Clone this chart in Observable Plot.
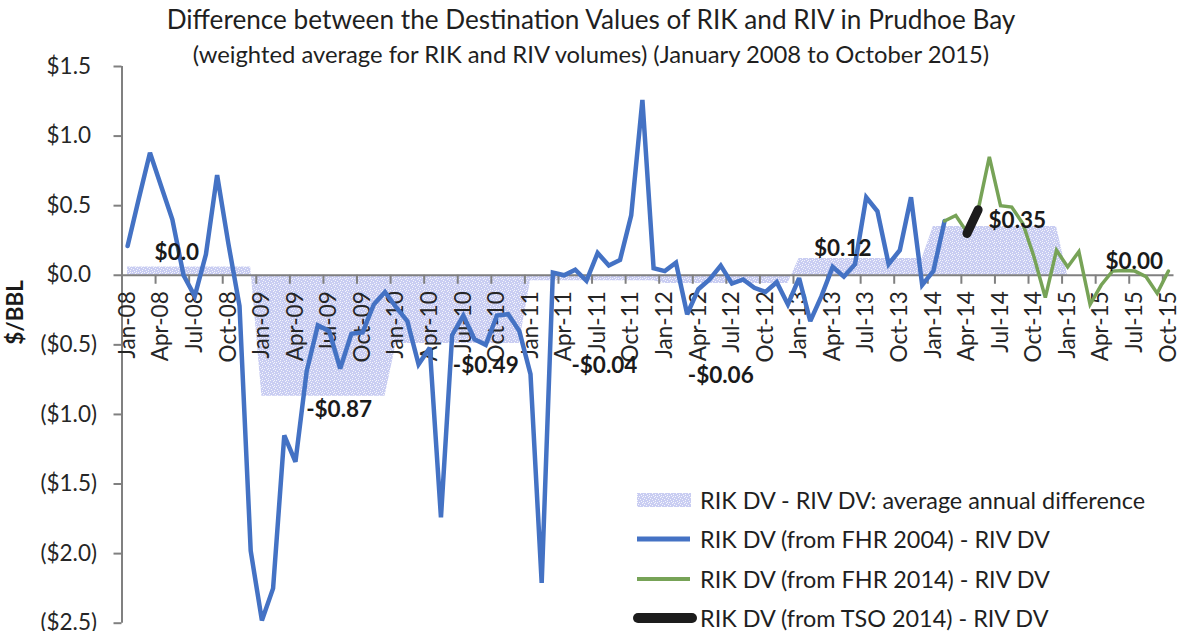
<!DOCTYPE html>
<html>
<head>
<meta charset="utf-8">
<script src="https://cdn.jsdelivr.net/npm/d3@7"></script>
<script src="https://cdn.jsdelivr.net/npm/@observablehq/plot@0.6"></script>
<style>
  html, body { margin: 0; padding: 0; background: #fff; }
  #wrap { position: relative; width: 1182px; height: 631px; overflow: hidden; font-family: Lato, "Open Sans", sans-serif; color: #1f1f1f; }
  .title { position: absolute; left: 0; width: 1182px; text-align: center; white-space: nowrap; line-height: 1; }
  #t1 { top: 6px; font-size: 26.2px; }
  #t2 { top: 43px; font-size: 23.8px; }
  #chart { position: absolute; left: 0; top: 50px; }
  #legend { position: absolute; left: 633px; top: 480px; font-size: 23.4px; color: #1f1f1f; }
  .row { display: flex; align-items: center; height: 39.5px; white-space: nowrap; }
  .row svg { flex: none; margin-right: 3px; }
</style>
</head>
<body>
<div id="wrap">
  <div class="title" id="t1">Difference between the Destination Values of RIK and RIV in Prudhoe Bay</div>
  <div class="title" id="t2">(weighted average for RIK and RIV volumes) (January 2008 to October 2015)</div>
  <div id="chart"></div>
  <div id="legend"></div>
</div>
<script>
// ---------- data ----------
// x-axis tick labels (every third month, Jan-08 .. Oct-15)
const xTickLabels = ["Jan-08","Apr-08","Jul-08","Oct-08","Jan-09","Apr-09","Jul-09","Oct-09",
  "Jan-10","Apr-10","Jul-10","Oct-10","Jan-11","Apr-11","Jul-11","Oct-11",
  "Jan-12","Apr-12","Jul-12","Oct-12","Jan-13","Apr-13","Jul-13","Oct-13",
  "Jan-14","Apr-14","Jul-14","Oct-14","Jan-15","Apr-15","Jul-15","Oct-15"];
const monthCount = 94; // Jan-08 .. Oct-15

// y-axis ticks
const yTickValues = [1.5, 1.0, 0.5, 0.0, -0.5, -1.0, -1.5, -2.0, -2.5];
const yTickLabels = ["$1.5", "$1.0", "$0.5", "$0.0", "($0.5)", "($1.0)", "($1.5)", "($2.0)", "($2.5)"];

// RIK DV (from FHR 2004) - RIV DV, monthly, Jan-08 .. Feb-14
const blueStart = 0;
const blueValues = [
  0.21, 0.55, 0.88, 0.64, 0.40, 0.00, -0.15, 0.15, 0.72, 0.23, -0.22, -1.98,      // 2008
  -2.48, -2.25, -1.15, -1.34, -0.69, -0.36, -0.40, -0.67, -0.42, -0.41, -0.21, -0.12, // 2009
  -0.23, -0.33, -0.64, -0.52, -1.74, -0.43, -0.29, -0.46, -0.50, -0.29, -0.28, -0.40, // 2010
  -0.71, -2.21, 0.02, 0.00, 0.04, -0.04, 0.16, 0.07, 0.11, 0.43, 1.26, 0.05,     // 2011
  0.03, 0.09, -0.28, -0.10, -0.03, 0.07, -0.06, -0.03, -0.09, -0.12, -0.05, -0.21, // 2012
  -0.02, -0.33, -0.15, 0.06, -0.01, 0.08, 0.56, 0.46, 0.08, 0.18, 0.56, -0.07,   // 2013
  0.03, 0.39                                                                     // 2014
];

// RIK DV (from FHR 2014) - RIV DV, monthly, Feb-14 .. Oct-15
const greenStart = 73;
const greenValues = [0.39, 0.43, 0.31, 0.47, 0.85, 0.50, 0.49, 0.37, 0.13, -0.16, 0.18,
  0.06, 0.17, -0.21, -0.07, 0.03, 0.035, 0.03, -0.01, -0.13, 0.03];

// RIK DV (from TSO 2014) - RIV DV, Apr-14 .. May-14
const blackStart = 75;
const blackValues = [0.30, 0.47];

// average annual difference
const years = [2008, 2009, 2010, 2011, 2012, 2013, 2014, 2015];
const annualValues = [0.06, -0.87, -0.49, -0.04, -0.06, 0.12, 0.35, 0.00];
const annualLabels = ["$0.0", "-$0.87", "-$0.49", "-$0.04", "-$0.06", "$0.12", "$0.35", "$0.00"];
// where each annual label sits (month index, value)
const annualLabelMonth = [4.4, 18.9, 32.0, 42.6, 53.0, 63.9, 79.5, 89.95];
const annualLabelValue = [0.16, -0.97, -0.65, -0.65, -0.72, 0.19, 0.39, 0.10];

// ---------- tables ----------
const blue = blueValues.map((v, k) => ({i: blueStart + k, v}));
const green = greenValues.map((v, k) => ({i: greenStart + k, v}));
const black = blackValues.map((v, k) => ({i: blackStart + k, v}));
const annualArea = d3.range(monthCount).map(i => ({i, v: annualValues[Math.floor(i / 12)]}));
const annualText = years.map((y, k) => ({x: annualLabelMonth[k], y: annualLabelValue[k], t: annualLabels[k]}));
const xLabelIdx = xTickLabels.map((_, k) => k * 3);
const xTickPos = d3.range(1, xTickLabels.length).map(k => k * 3 - 0.5);
const yPos = yTickValues.filter(v => v >= 0);
const yNeg = yTickValues.filter(v => v < 0);
const yFmt = d => yTickLabels[yTickValues.indexOf(d)];

const BLUE = "#4472C4", GREEN = "#77a357", BLACK = "#1c1c1c", AXIS = "#808080", TXT = "#262626";
const FS = 22.5;

const chart = Plot.plot({
  width: 1182,
  height: 581,
  marginLeft: 121.5,
  marginRight: 8.5,
  marginTop: 16,
  marginBottom: 8.3,
  x: {type: "linear", domain: [-0.5, monthCount - 0.5], axis: null},
  y: {domain: [-2.5, 1.5], axis: null},
  style: {fontFamily: "Lato, 'Open Sans', sans-serif", fontSize: FS + "px", color: TXT, background: "transparent", overflow: "visible"},
  marks: [
    Plot.areaY(annualArea, {x: "i", y: "v", fill: "url(#speckle)"}),
    Plot.ruleY([0], {stroke: AXIS, strokeWidth: 2}),
    Plot.ruleX(xTickPos, {x: d => d, y1: 0, y2: 0, insetBottom: -9, stroke: AXIS, strokeWidth: 2}),
    Plot.ruleX([-0.5], {stroke: AXIS, strokeWidth: 2}),
    Plot.axisY({ticks: yPos, tickFormat: yFmt, tickSize: 8, tickPadding: 23, stroke: AXIS, strokeWidth: 2, fill: TXT, fontSize: FS, label: null}),
    Plot.axisY({ticks: yNeg, tickFormat: yFmt, tickSize: 8, tickPadding: 17, stroke: AXIS, strokeWidth: 2, fill: TXT, fontSize: FS, label: null}),
    Plot.text(xLabelIdx, {
      x: d => d, y: 0, text: (d, k) => xTickLabels[k],
      rotate: -90, textAnchor: "end", lineAnchor: "middle", dy: 16, fontSize: FS, fill: TXT
    }),
    Plot.line(blue, {x: "i", y: "v", stroke: BLUE, strokeWidth: 4.5, strokeLinejoin: "miter", strokeMiterlimit: 3}),
    Plot.line(green, {x: "i", y: "v", stroke: GREEN, strokeWidth: 3.5, strokeLinejoin: "miter", strokeMiterlimit: 3}),
    Plot.line(black, {x: "i", y: "v", stroke: BLACK, strokeWidth: 9, strokeLinecap: "round"}),
    Plot.text(annualText, {x: "x", y: "y", text: "t", fontWeight: "bold", fontSize: FS, fill: "#1a1a1a"}),
    Plot.text(["$/BBL"], {text: d => d, frameAnchor: "left", rotate: -90, dx: -106, fontWeight: "bold", fontSize: FS, fill: "#1a1a1a"})
  ]
});

// speckled fill pattern for the annual-average area
const NS = "http://www.w3.org/2000/svg";
function addSpeckle(svg, id) {
  const defs = document.createElementNS(NS, "defs");
  const pat = document.createElementNS(NS, "pattern");
  pat.setAttribute("id", id);
  pat.setAttribute("patternUnits", "userSpaceOnUse");
  pat.setAttribute("width", 6);
  pat.setAttribute("height", 6);
  const bg = document.createElementNS(NS, "rect");
  bg.setAttribute("width", 6); bg.setAttribute("height", 6); bg.setAttribute("fill", "#c9cdf2");
  pat.appendChild(bg);
  [[0,0],[3,1],[1,3],[4,4],[5,2],[2,5],[4,0]].forEach(([x, y]) => {
    const r = document.createElementNS(NS, "rect");
    r.setAttribute("x", x); r.setAttribute("y", y); r.setAttribute("width", 1); r.setAttribute("height", 1);
    r.setAttribute("fill", "#ffffff"); r.setAttribute("fill-opacity", 0.8);
    pat.appendChild(r);
  });
  defs.appendChild(pat);
  svg.insertBefore(defs, svg.firstChild);
}
addSpeckle(chart, "speckle");
document.getElementById("chart").appendChild(chart);

// ---------- legend ----------
const legendItems = [
  {label: "RIK DV - RIV DV: average annual difference", kind: "area"},
  {label: "RIK DV (from FHR 2004) - RIV DV", kind: "line", color: BLUE, w: 5, cap: "butt"},
  {label: "RIK DV (from FHR 2014) - RIV DV", kind: "line", color: GREEN, w: 4, cap: "butt"},
  {label: "RIK DV (from TSO 2014) - RIV DV", kind: "line", color: BLACK, w: 10, cap: "round"}
];
const legend = document.getElementById("legend");
legendItems.forEach((it, k) => {
  const row = document.createElement("div");
  row.className = "row";
  const s = document.createElementNS(NS, "svg");
  s.setAttribute("width", 64); s.setAttribute("height", 20);
  if (it.kind === "area") {
    addSpeckle(s, "speckleLeg");
    const r = document.createElementNS(NS, "rect");
    r.setAttribute("x", 4); r.setAttribute("y", 3); r.setAttribute("width", 54); r.setAttribute("height", 14);
    r.setAttribute("fill", "url(#speckleLeg)");
    s.appendChild(r);
  } else {
    const l = document.createElementNS(NS, "line");
    const pad = it.cap === "round" ? 5 : 4;
    l.setAttribute("x1", pad); l.setAttribute("x2", 64 - pad - (it.cap === "round" ? 0 : 3));
    l.setAttribute("y1", 10); l.setAttribute("y2", 10);
    l.setAttribute("stroke", it.color); l.setAttribute("stroke-width", it.w);
    l.setAttribute("stroke-linecap", it.cap);
    s.appendChild(l);
  }
  row.appendChild(s);
  const t = document.createElement("span");
  t.textContent = it.label;
  row.appendChild(t);
  legend.appendChild(row);
});
</script>
</body>
</html>
